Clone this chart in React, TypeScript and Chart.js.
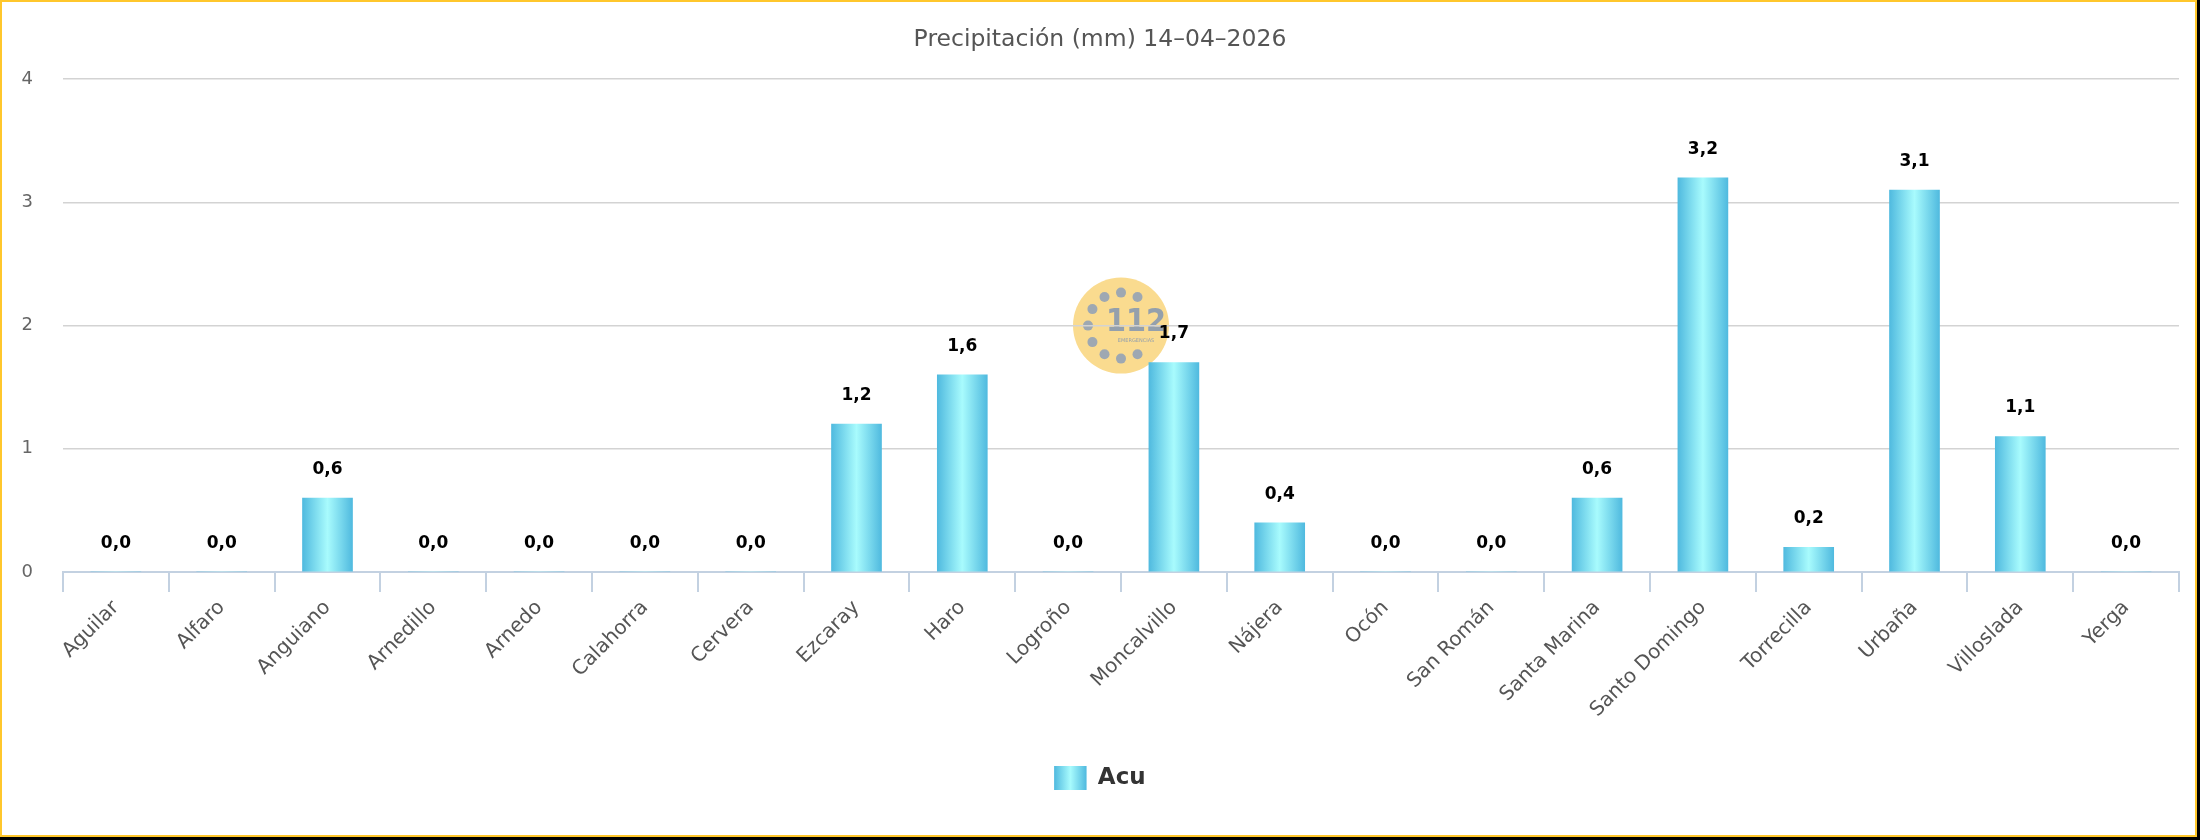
import React, { useEffect, useRef } from 'react';
import { Chart, registerables } from 'chart.js';

Chart.register(...registerables);

const titleText = 'Precipitación (mm) 14–04–2026';
const seriesLabel = 'Acu';
const categories = [
  'Aguilar', 'Alfaro', 'Anguiano', 'Arnedillo', 'Arnedo', 'Calahorra', 'Cervera',
  'Ezcaray', 'Haro', 'Logroño', 'Moncalvillo', 'Nájera', 'Ocón', 'San Román',
  'Santa Marina', 'Santo Domingo', 'Torrecilla', 'Urbaña', 'Villoslada', 'Yerga',
];
const values = [0, 0, 0.6, 0, 0, 0, 0, 1.2, 1.6, 0, 1.7, 0.4, 0, 0, 0.6, 3.2, 0.2, 3.1, 1.1, 0];
const yMin = 0;
const yMax = 4;
const yStep = 1;

const EDGE = '#50BADF';
const MID = '#A8FBFD';
const BAR_W = 50;
const LEGEND_FONT = 23;

const makeGrad = (ctx: CanvasRenderingContext2D, x0: number, x1: number) => {
  const g = ctx.createLinearGradient(x0, 0, x1, 0);
  g.addColorStop(0, EDGE);
  g.addColorStop(0.5, MID);
  g.addColorStop(1, EDGE);
  return g;
};

const barGradient = (c: any) => {
  const chart = c.chart;
  const xs = chart.scales?.x;
  if (!xs || !chart.chartArea || typeof c.dataIndex !== 'number') return EDGE;
  const cx = xs.getPixelForValue(c.dataIndex);
  if (!isFinite(cx)) return EDGE;
  return makeGrad(chart.ctx, cx - BAR_W / 2, cx + BAR_W / 2);
};

const valueLabels = {
  id: 'valueLabels',
  afterDatasetsDraw(chart: any) {
    const { ctx } = chart;
    const meta = chart.getDatasetMeta(0);
    ctx.save();
    ctx.font = 'bold 17px "DejaVu Sans"';
    ctx.fillStyle = '#000';
    ctx.textAlign = 'center';
    ctx.textBaseline = 'bottom';
    meta.data.forEach((bar: any, i: number) => {
      const v = values[i];
      ctx.fillText(v.toFixed(1).replace('.', ','), bar.x, bar.y - 20);
    });
    ctx.restore();
  },
};

const watermark = {
  id: 'watermark',
  beforeDraw(chart: any) {
    const { ctx, chartArea } = chart;
    if (!chartArea) return;
    const cx = (chartArea.left + chartArea.right) / 2;
    const cy = (chartArea.top + chartArea.bottom) / 2;
    ctx.save();
    ctx.fillStyle = '#FADB8F';
    ctx.beginPath();
    ctx.arc(cx, cy, 48, 0, Math.PI * 2);
    ctx.fill();
    ctx.fillStyle = '#9EA8B2';
    for (let k = 0; k < 12; k++) {
      const a = (k * Math.PI) / 6;
      if (k === 0 || k === 1 || k === 11) continue;
      ctx.beginPath();
      ctx.arc(cx + Math.cos(a) * 33, cy + Math.sin(a) * 33, 5, 0, Math.PI * 2);
      ctx.fill();
    }
    ctx.fillStyle = '#94A0AC';
    ctx.font = 'bold 32px "DejaVu Sans Condensed", "DejaVu Sans"';
    ctx.textAlign = 'center';
    ctx.textBaseline = 'middle';
    ctx.fillText('112', cx + 15, cy - 3);
    ctx.font = '5px "DejaVu Sans"';
    ctx.fillText('EMERGENCIAS', cx + 15, cy + 15);
    ctx.restore();
  },
};

const legendBox = {
  id: 'legendBox',
  afterDraw(chart: any) {
    const lg = chart.legend;
    if (!lg) return;
    const { ctx } = chart;
    ctx.save();
    ctx.font = `bold ${LEGEND_FONT}px "DejaVu Sans"`;
    const itemWidth = 32 + LEGEND_FONT / 2 + ctx.measureText(seriesLabel).width;
    const x = (lg.left + lg.right - itemWidth) / 2;
    const y = lg.top + 44;
    ctx.fillStyle = makeGrad(ctx, x, x + 32);
    ctx.fillRect(x, y, 32, 24);
    ctx.restore();
  },
};

export default function App() {
  const ref = useRef<HTMLCanvasElement | null>(null);

  useEffect(() => {
    document.body.style.margin = '0';
    document.documentElement.style.background = '#000';
    if (!ref.current) return;
    const chart = new Chart(ref.current, {
      type: 'bar',
      data: {
        labels: categories,
        datasets: [
          {
            label: seriesLabel,
            data: values,
            backgroundColor: barGradient,
            borderWidth: 0,
            barThickness: BAR_W,
          },
        ],
      },
      options: {
        responsive: false,
        animation: false,
        devicePixelRatio: 1,
        layout: { padding: { top: 0, left: 19, right: 16, bottom: 35 } },
        plugins: {
          title: {
            display: true,
            text: titleText,
            color: '#555',
            font: { family: '"DejaVu Sans"', size: 23.5, weight: 'normal', lineHeight: 1.2 },
            padding: { top: 24, bottom: 25 },
          },
          legend: {
            position: 'bottom',
            labels: {
              boxWidth: 32,
              boxHeight: 24,
              padding: 44,
              color: '#333',
              font: { family: '"DejaVu Sans"', size: LEGEND_FONT, weight: 'bold' },
            },
          },
          tooltip: { enabled: false },
        },
        scales: {
          x: {
            afterFit: (s: any) => { s.height = 150; },
            grid: {
              drawOnChartArea: false,
              drawTicks: true,
              tickLength: 20,
              color: '#C3D1E1',
              lineWidth: 2,
              offset: true,
            },
            border: { display: true, color: '#C3D1E1', width: 2 },
            ticks: {
              autoSkip: false,
              minRotation: 45,
              maxRotation: 45,
              padding: 4,
              color: '#555',
              font: { family: '"DejaVu Sans"', size: 20 },
            },
          },
          y: {
            min: yMin,
            max: yMax,
            afterFit: (s: any) => { s.width = 42; },
            grid: {
              drawTicks: false,
              color: (c: any) => (c.tick && c.tick.value === 0 ? 'rgba(0,0,0,0)' : '#D3D3D3'),
              lineWidth: 1.5,
            },
            border: { display: false },
            ticks: {
              stepSize: yStep,
              padding: 30,
              color: '#666',
              font: { family: '"DejaVu Sans"', size: 18 },
            },
          },
        },
      },
      plugins: [watermark, valueLabels, legendBox],
    });
    return () => chart.destroy();
  }, []);

  return (
    <div
      style={{
        position: 'fixed',
        left: 0,
        top: 0,
        width: 2197,
        height: 837,
        boxSizing: 'border-box',
        border: '2px solid #FFC72C',
        background: '#fff',
      }}
    >
      <canvas ref={ref} width={2193} height={833} style={{ display: 'block' }} />
    </div>
  );
}
